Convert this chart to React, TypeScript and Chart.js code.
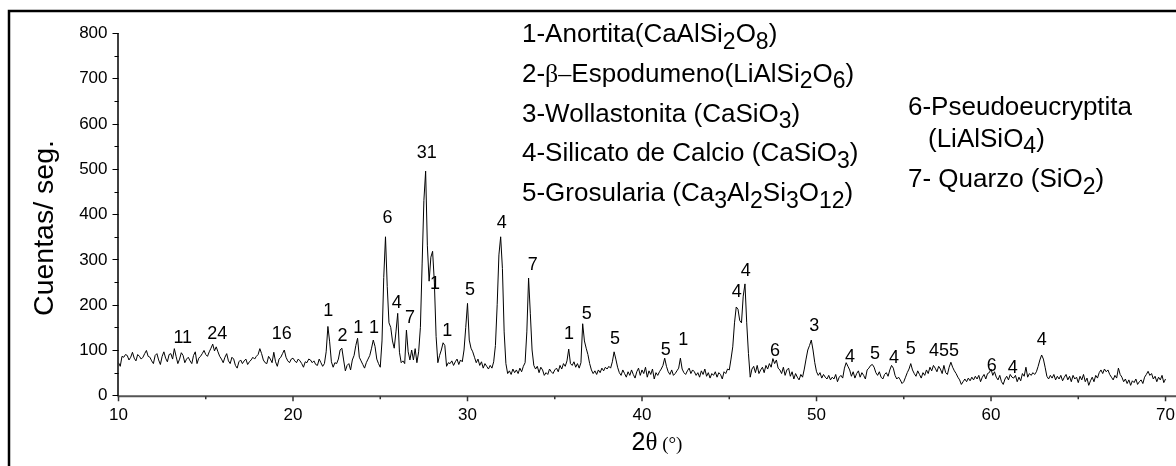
import React, { useEffect, useRef } from "react";
import { Chart, registerables } from "chart.js";

Chart.register(...registerables);

// ---- DATA ----
// 2θ sampling grid (instrument step) and measured counts read from the pattern
const START_2THETA = 10;
const STEP_2THETA = 0.1;
const counts = [
  72, 64, 86, 84, 90, 88, 78, 84, 95, 82, // 10
  76, 90, 86, 80, 84, 92, 99, 86, 84, 76, // 11
  70, 88, 92, 78, 68, 86, 96, 82, 74, 90, // 12
  92, 80, 103, 86, 70, 80, 94, 88, 72, 80, // 13
  84, 76, 70, 88, 96, 70, 82, 86, 92, 99, // 14
  90, 86, 96, 104, 113, 98, 107, 96, 86, 80, // 15
  72, 84, 92, 76, 70, 84, 80, 66, 60, 74, // 16
  78, 70, 76, 80, 68, 74, 78, 84, 80, 86, // 17
  90, 103, 92, 78, 72, 70, 86, 80, 72, 95, // 18
  74, 64, 80, 84, 92, 100, 84, 76, 72, 80, // 19
  82, 76, 72, 80, 76, 70, 62, 74, 72, 80, // 20
  78, 72, 76, 68, 66, 80, 72, 64, 70, 96, // 21
  152, 118, 74, 62, 72, 70, 80, 100, 104, 78, // 22
  54, 66, 70, 56, 78, 88, 110, 126, 84, 76, // 23
  68, 60, 72, 80, 88, 104, 122, 108, 80, 70, // 24
  62, 120, 260, 350, 240, 160, 150, 120, 104, 140, // 25
  181, 95, 72, 76, 70, 144, 96, 78, 100, 78, // 26
  103, 72, 96, 150, 290, 430, 495, 330, 252, 305, // 27
  318, 250, 130, 72, 88, 100, 116, 110, 64, 72, // 28
  70, 76, 66, 74, 80, 68, 78, 74, 100, 150, // 29
  203, 122, 104, 96, 84, 72, 80, 66, 74, 60, // 30
  70, 64, 58, 66, 60, 74, 110, 200, 310, 350, // 31
  280, 140, 70, 48, 54, 46, 58, 50, 56, 48, // 32
  60, 52, 64, 72, 140, 259, 180, 100, 66, 58, // 33
  64, 50, 62, 56, 44, 50, 46, 58, 52, 48, // 34
  56, 60, 52, 66, 58, 70, 64, 76, 102, 70, // 35
  66, 74, 62, 70, 60, 72, 158, 120, 104, 90, // 36
  70, 56, 48, 54, 46, 56, 50, 60, 54, 62, // 37
  58, 64, 60, 74, 96, 80, 62, 50, 44, 56, // 38
  48, 40, 52, 44, 56, 46, 38, 52, 60, 44, // 39
  56, 48, 62, 40, 54, 46, 58, 36, 50, 44, // 40
  52, 58, 66, 82, 64, 52, 46, 56, 44, 48, // 41
  54, 60, 82, 58, 50, 46, 54, 60, 48, 56, // 42
  52, 44, 50, 40, 54, 46, 58, 42, 50, 38, // 43
  48, 44, 52, 40, 50, 46, 36, 52, 48, 58, // 44
  56, 80, 107, 160, 195, 190, 165, 160, 219, 246, // 45
  160, 92, 40, 58, 64, 50, 66, 48, 56, 62, // 46
  50, 66, 58, 70, 62, 81, 70, 78, 60, 56, // 47
  48, 62, 44, 56, 60, 42, 52, 36, 48, 40, // 48
  34, 46, 40, 58, 80, 100, 110, 122, 100, 72, // 49
  52, 44, 50, 38, 46, 40, 36, 44, 34, 40, // 50
  36, 46, 30, 40, 44, 38, 60, 72, 64, 56, // 51
  42, 52, 38, 48, 54, 40, 50, 44, 36, 56, // 52
  60, 66, 68, 62, 50, 44, 52, 40, 36, 46, // 53
  50, 42, 56, 66, 60, 44, 36, 40, 34, 26, // 54
  30, 40, 50, 58, 70, 56, 48, 42, 54, 46, // 55
  38, 50, 44, 56, 48, 62, 54, 66, 60, 52, // 56
  64, 58, 48, 66, 50, 46, 62, 73, 62, 54, // 57
  48, 40, 34, 24, 30, 36, 30, 38, 32, 40, // 58
  34, 42, 36, 44, 30, 40, 46, 36, 48, 50, // 59
  58, 44, 52, 40, 34, 44, 30, 24, 36, 42, // 60
  34, 46, 40, 38, 44, 30, 40, 32, 48, 42, // 61
  62, 40, 48, 44, 50, 46, 52, 64, 78, 89, // 62
  80, 62, 42, 36, 44, 38, 46, 34, 42, 36, // 63
  44, 32, 40, 46, 34, 42, 30, 44, 36, 40, // 64
  28, 42, 34, 46, 30, 38, 22, 32, 40, 30, // 65
  44, 38, 50, 56, 48, 58, 52, 56, 46, 40, // 66
  34, 44, 38, 60, 46, 40, 30, 36, 26, 34, // 67
  22, 32, 28, 36, 24, 30, 34, 26, 40, 46, // 68
  53, 44, 48, 36, 42, 30, 40, 34, 44, 28, // 69
  36, // 70
];

const xTickValues = [10, 20, 30, 40, 50, 60, 70];
const xMinorTickValues = [15, 25, 35, 45, 55, 65];
const yTickValues = [0, 100, 200, 300, 400, 500, 600, 700, 800];
const yMinorTickValues = [50, 150, 250, 350, 450, 550, 650, 750];

const peakLabels = ["11", "24", "16", "1", "2", "1", "1", "6", "4", "7", "31", "1", "1", "5", "4", "7", "1", "5", "5", "5", "1", "4", "4", "6", "3", "4", "5", "4", "5", "455", "6", "4", "4"];
const peakX = [13.68, 15.66, 19.35, 22.02, 22.83, 23.74, 24.64, 25.41, 25.94, 26.7, 27.66, 28.14, 28.84, 30.14, 31.96, 33.74, 35.82, 36.83, 38.45, 41.36, 42.37, 45.43, 45.94, 47.62, 49.87, 51.92, 53.35, 54.44, 55.4, 57.31, 60.04, 61.24, 62.9];
const peakY = [127, 136, 136, 187, 130, 148, 148, 392, 204, 170, 535, 246, 141, 233, 381, 288, 136, 180, 124, 100, 122, 227, 274, 97, 154, 84, 91, 82, 102, 97, 65, 60, 122];

// legend lines: _{..} = subscript, ~{..} = symbol (serif) glyphs
const phaseLegendMain = [
  "1-Anortita(CaAlSi_{2}O_{8})",
  "2-~{β–}Espodumeno(LiAlSi_{2}O_{6})",
  "3-Wollastonita (CaSiO_{3})",
  "4-Silicato de Calcio (CaSiO_{3})",
  "5-Grosularia (Ca_{3}Al_{2}Si_{3}O_{12})",
];
const phaseLegendSide = ["6-Pseudoeucryptita", "(LiAlSiO_{4})", "7- Quarzo (SiO_{2})"];

const yAxisTitle = "Cuentas/ seg.";
const X_MIN = 10;
const X_MAX = 70.6;
const Y_MIN = 0;
const Y_MAX = 800;

const SANS = '"Liberation Sans", Arial, sans-serif';
const SERIF = '"Liberation Serif", "Times New Roman", serif';

function drawRich(ctx: CanvasRenderingContext2D, text: string, x: number, y: number, size: number) {
  const parts = text.split(/(_\{[^}]*\}|~\{[^}]*\})/).filter((p) => p.length > 0);
  let cx = x;
  for (const p of parts) {
    let t = p;
    let font = `${size}px ${SANS}`;
    let dy = 0;
    if (p.startsWith("_{")) {
      t = p.slice(2, -1);
      font = `${Math.round(size * 0.9)}px ${SANS}`;
      dy = size * 0.25;
    } else if (p.startsWith("~{")) {
      t = p.slice(2, -1);
      font = `${size}px ${SERIF}`;
    }
    ctx.font = font;
    ctx.fillText(t, cx, y + dy);
    cx += ctx.measureText(t).width;
  }
}

const decorPlugin = {
  id: "decor",
  afterDraw(chart: any) {
    const ctx: CanvasRenderingContext2D = chart.ctx;
    const xs = chart.scales.x;
    const ys = chart.scales.y;
    const { left, right, top, bottom } = chart.chartArea;
    ctx.save();

    // outer frame (left + top)
    ctx.strokeStyle = "#000";
    ctx.lineWidth = 2.5;
    ctx.beginPath();
    ctx.moveTo(9, chart.height + 5);
    ctx.lineTo(9, 11);
    ctx.lineTo(chart.width + 5, 11);
    ctx.stroke();

    // axes
    ctx.lineWidth = 1.5;
    ctx.strokeStyle = "#000";
    ctx.beginPath();
    ctx.moveTo(left - 0.5, top);
    ctx.lineTo(left - 0.5, bottom + 1);
    ctx.stroke();
    ctx.lineWidth = 2;
    ctx.strokeStyle = "#555";
    ctx.beginPath();
    ctx.moveTo(left - 1, bottom + 1);
    ctx.lineTo(right, bottom + 1);
    ctx.stroke();

    // ticks
    ctx.strokeStyle = "#000";
    ctx.lineWidth = 1.2;
    ctx.beginPath();
    for (const v of yTickValues) {
      const py = Math.round(ys.getPixelForValue(v)) + 0.5;
      ctx.moveTo(left - 6, py);
      ctx.lineTo(left, py);
    }
    for (const v of yMinorTickValues) {
      const py = Math.round(ys.getPixelForValue(v)) + 0.5;
      ctx.moveTo(left - 4, py);
      ctx.lineTo(left, py);
    }
    ctx.stroke();
    ctx.strokeStyle = "#333";
    ctx.lineWidth = 1.5;
    ctx.beginPath();
    for (const v of xTickValues) {
      const px = xs.getPixelForValue(v);
      ctx.moveTo(px, bottom + 1);
      ctx.lineTo(px, bottom + 6);
    }
    for (const v of xMinorTickValues) {
      const px = xs.getPixelForValue(v);
      ctx.moveTo(px, bottom + 1);
      ctx.lineTo(px, bottom + 4);
    }
    ctx.stroke();

    // tick labels
    ctx.fillStyle = "#000";
    ctx.font = `17px ${SANS}`;
    ctx.textAlign = "right";
    ctx.textBaseline = "middle";
    for (const v of yTickValues) {
      ctx.fillText(String(v), left - 11, ys.getPixelForValue(v) + 0.5);
    }
    ctx.textAlign = "center";
    for (const v of xTickValues) {
      ctx.fillText(String(v), xs.getPixelForValue(v), bottom + 20);
    }

    // axis titles
    ctx.save();
    ctx.translate(53, 228);
    ctx.rotate(-Math.PI / 2);
    ctx.textAlign = "center";
    ctx.textBaseline = "alphabetic";
    ctx.font = `28.5px ${SANS}`;
    ctx.fillText(yAxisTitle, 0, 0);
    ctx.restore();

    ctx.textAlign = "left";
    ctx.textBaseline = "alphabetic";
    const tParts: [string, string][] = [
      ["2", `25px ${SANS}`],
      ["θ", `25px ${SERIF}`],
      [" (°)", `19px ${SERIF}`],
    ];
    let tw = 0;
    for (const [t, f] of tParts) {
      ctx.font = f;
      tw += ctx.measureText(t).width;
    }
    let tx = 657 - tw / 2;
    for (const [t, f] of tParts) {
      ctx.font = f;
      ctx.fillText(t, tx, 450);
      tx += ctx.measureText(t).width;
    }

    // peak labels
    ctx.font = `18px ${SANS}`;
    ctx.textAlign = "center";
    ctx.textBaseline = "middle";
    for (let i = 0; i < peakLabels.length; i++) {
      ctx.fillText(peakLabels[i], xs.getPixelForValue(peakX[i]), ys.getPixelForValue(peakY[i]));
    }

    // phase legend
    ctx.textAlign = "left";
    ctx.textBaseline = "alphabetic";
    phaseLegendMain.forEach((line, i) => {
      drawRich(ctx, line, 522, 42 + i * 39.8, 26);
    });
    drawRich(ctx, phaseLegendSide[0], 908, 115, 26);
    drawRich(ctx, phaseLegendSide[1], 928, 146.7, 26);
    drawRich(ctx, phaseLegendSide[2], 908, 187.3, 26);

    ctx.restore();
  },
};

export default function App() {
  const canvasRef = useRef<HTMLCanvasElement | null>(null);

  useEffect(() => {
    if (!canvasRef.current) return;
    const points = counts.map((c, i) => ({
      x: +(START_2THETA + i * STEP_2THETA).toFixed(2),
      y: c,
    }));
    const chart = new Chart(canvasRef.current, {
      type: "line",
      data: {
        datasets: [
          {
            data: points,
            borderColor: "#000",
            borderWidth: 1,
            pointRadius: 0,
            tension: 0,
            fill: false,
          },
        ],
      },
      options: {
        animation: false,
        responsive: false,
        devicePixelRatio: 1,
        layout: { padding: { left: 0, right: 0, top: 33, bottom: 0 } },
        plugins: {
          legend: { display: false },
          tooltip: { enabled: false },
        },
        scales: {
          x: {
            type: "linear",
            min: X_MIN,
            max: X_MAX,
            grid: { display: false, drawTicks: false },
            border: { display: false },
            ticks: { display: false },
            afterFit: (scale: any) => {
              scale.height = 70.7;
            },
          },
          y: {
            type: "linear",
            min: Y_MIN,
            max: Y_MAX,
            grid: { display: false, drawTicks: false },
            border: { display: false },
            ticks: { display: false },
            afterFit: (scale: any) => {
              scale.width = 118.5;
            },
          },
        },
      },
      plugins: [decorPlugin],
    });
    return () => chart.destroy();
  }, []);

  return (
    <div style={{ position: "absolute", left: 0, top: 0, width: 1176, height: 466, background: "#fff" }}>
      <canvas ref={canvasRef} width={1176} height={466} style={{ display: "block" }} />
    </div>
  );
}
